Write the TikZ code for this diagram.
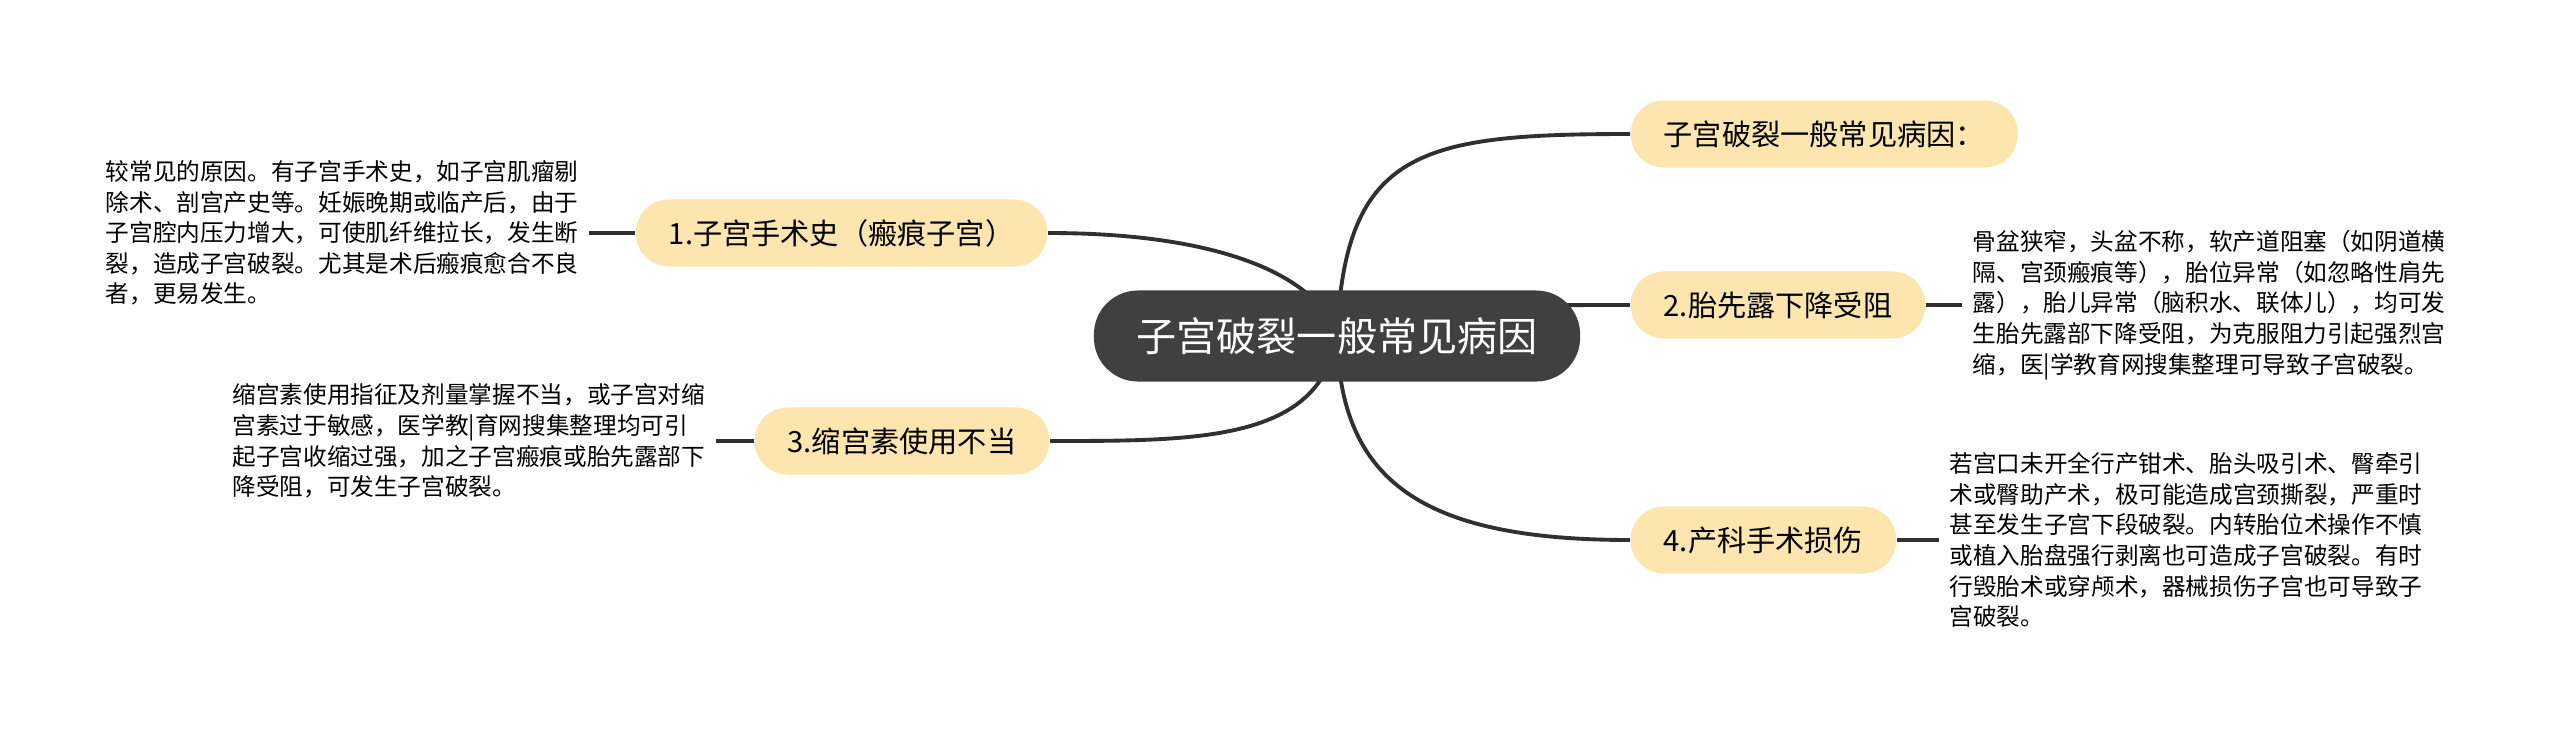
\documentclass[tikz,border=0pt]{standalone}
\usepackage{fontspec}
\newfontfamily\cjk{Noto Sans CJK SC}
\usepackage{xcolor}
\usepackage{tikz}
\usetikzlibrary{positioning, backgrounds}
\definecolor{rootgray}{RGB}{64, 64, 64}
\definecolor{branchyellow}{RGB}{252, 229, 174}
\definecolor{linkgray}{RGB}{48, 48, 48}

\begin{document}
\begin{tikzpicture}[
    x=0.01cm, y=-0.01cm,
    rootnode/.style={rectangle, rounded corners=0.44cm, fill=rootgray, text=white, minimum width=4.86cm, minimum height=0.91cm, inner sep=0pt, font=\cjk\fontsize{11.4pt}{14pt}\selectfont},
    branchnode/.style={rectangle, rounded corners=0.33cm, fill=branchyellow, minimum height=0.67cm, inner xsep=0.33cm, inner ysep=0pt, font=\cjk\fontsize{8.3pt}{10pt}\selectfont},
    leaftext/.style={align=left, inner sep=0.1cm, font=\cjk\fontsize{6.72pt}{8.7pt}\selectfont},
    link/.style={draw=linkgray, line width=1.1pt}
]
\useasboundingbox (0,0) rectangle (2560,742);

% Root and branches
\node[rootnode] (root) at (1337,336) {子宫破裂一般常见病因};
\node[branchnode, anchor=west] (b0) at (1630,134) {子宫破裂一般常见病因：};
\node[branchnode, anchor=east] (b1) at (1048,233) {1.子宫手术史（瘢痕子宫）};
\node[branchnode, anchor=west] (b2) at (1630,305) {2.胎先露下降受阻};
\node[branchnode, anchor=east] (b3) at (1050,441) {3.缩宫素使用不当};
\node[branchnode, anchor=west] (b4) at (1630,540) {4.产科手术损伤};

% Leaf texts
\node[leaftext, left=0.46cm of b1] (t1) {较常见的原因。有子宫手术史，如子宫肌瘤剔\\除术、剖宫产史等。妊娠晚期或临产后，由于\\子宫腔内压力增大，可使肌纤维拉长，发生断\\裂，造成子宫破裂。尤其是术后瘢痕愈合不良\\者，更易发生。};
\node[leaftext, right=0.36cm of b2] (t2) {骨盆狭窄，头盆不称，软产道阻塞（如阴道横\\隔、宫颈瘢痕等），胎位异常（如忽略性肩先\\露），胎儿异常（脑积水、联体儿），均可发\\生胎先露部下降受阻，为克服阻力引起强烈宫\\缩，医|学教育网搜集整理可导致子宫破裂。};
\node[leaftext, left=0.38cm of b3] (t3) {缩宫素使用指征及剂量掌握不当，或子宫对缩\\宫素过于敏感，医学教|育网搜集整理均可引\\起子宫收缩过强，加之子宫瘢痕或胎先露部下\\降受阻，可发生子宫破裂。};
\node[leaftext, right=0.42cm of b4] (t4) {若宫口未开全行产钳术、胎头吸引术、臀牵引\\术或臀助产术，极可能造成宫颈撕裂，严重时\\甚至发生子宫下段破裂。内转胎位术操作不慎\\或植入胎盘强行剥离也可造成子宫破裂。有时\\行毁胎术或穿颅术，器械损伤子宫也可导致子\\宫破裂。};

% Links
\begin{scope}[on background layer]
\draw[link] (root.center) .. controls (1345,150) and (1420,134) .. (b0.west);
\draw[link] (root.center) .. controls (1320,280) and (1230,233) .. (b1.east);
\draw[link] (root.center) .. controls (1400,305) and (1500,305) .. (b2.west);
\draw[link] (root.center) .. controls (1320,441) and (1200,441) .. (b3.east);
\draw[link] (root.center) .. controls (1340,480) and (1420,540) .. (b4.west);
\end{scope}
\draw[link] (t1) -- (b1);
\draw[link] (b2) -- (t2);
\draw[link] (t3) -- (b3);
\draw[link] (b4) -- (t4);
\end{tikzpicture}
\end{document}
